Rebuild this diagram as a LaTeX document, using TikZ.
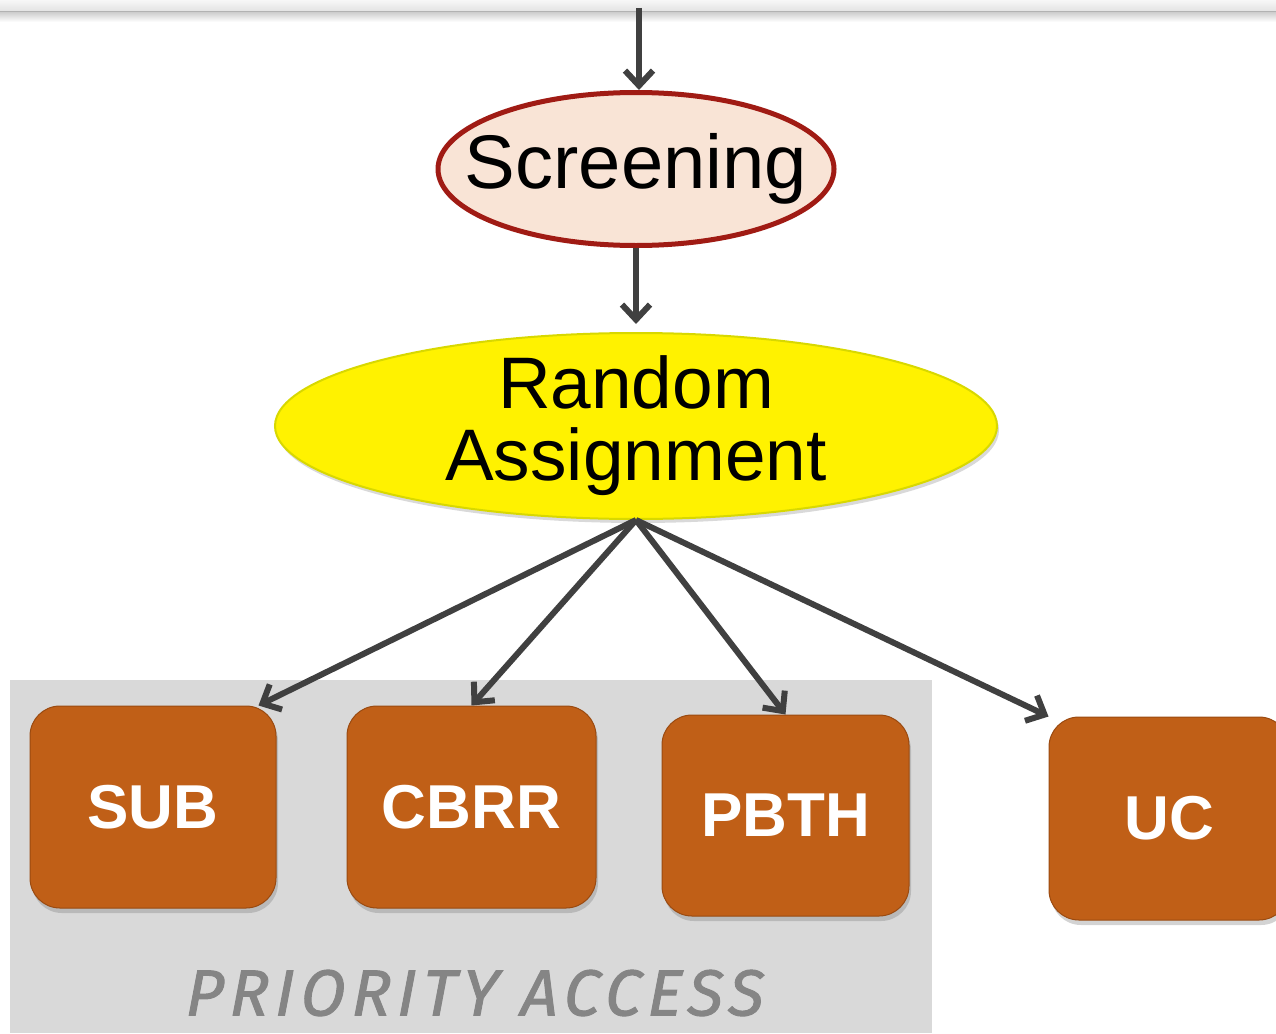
\documentclass[tikz,border=0pt]{standalone}
\usepackage{fontspec}
\setmainfont{Liberation Sans}
\newfontfamily\labelfont{Fira Sans}[LetterSpace=10, ItalicFeatures={FakeBold=1.5, FakeSlant=0.05}]
\usetikzlibrary{arrows.meta,shadows,shapes.geometric}
\definecolor{arrowgray}{HTML}{404040}
\definecolor{peach}{HTML}{F9E4D6}
\definecolor{darkred}{HTML}{A01B14}
\definecolor{boxorange}{HTML}{C05F17}
\definecolor{boxedge}{HTML}{9A4A10}
\definecolor{panel}{HTML}{D9D9D9}
\definecolor{labelgray}{HTML}{858585}
\definecolor{rimyellow}{HTML}{D8D800}
\begin{document}
\begin{tikzpicture}[x=1pt, y=-1pt,
  link/.style={draw=arrowgray, line width=6pt, -{Straight Barb[length=15pt, width=28pt]}},
  arm/.style={rounded corners=30pt, fill=boxorange, draw=boxedge, line width=1pt,
    text=white, font=\fontsize{62}{62}\selectfont\bfseries, inner sep=0pt,
    minimum width=247pt, minimum height=202pt,
    drop shadow={shadow xshift=2pt, shadow yshift=-5pt, opacity=.35}}]
  \useasboundingbox (0,0) rectangle (1276,1033);
  % top band
  \fill[top color=gray!6, bottom color=gray!22] (0,0) rectangle (1276,11);
  \fill[gray!60] (0,11) rectangle (1276,13);
  \fill[top color=gray!35, bottom color=white] (0,13) rectangle (1276,22);
  % priority access panel
  \fill[panel] (10,680) rectangle (932,1033);
  \node[font=\labelfont\itshape\fontsize{65}{65}\selectfont, text=labelgray] (PA) at (474,993) {PRIORITY ACCESS};
  % ellipses
  \node[ellipse, fill=peach, draw=darkred, line width=5pt, minimum width=396pt, minimum height=153pt,
    inner xsep=-40pt, inner ysep=0pt, font=\fontsize{76}{76}\selectfont] (S) at (636,169) {Screening};
  \node[ellipse, fill=yellow, draw=rimyellow, line width=2pt,
    minimum width=722pt, minimum height=186pt, inner ysep=-20pt, inner xsep=0pt, align=center,
    font=\fontsize{73}{72}\selectfont,
    drop shadow={shadow xshift=2pt, shadow yshift=-4pt, opacity=.3}] (R) at (636,426) {Random\\Assignment};
  % arms
  \node[arm, minimum width=246pt] (SUB) at (153,807) {SUB};
  \node[arm, minimum width=249pt] (CBRR) at (471.5,807) {CBRR};
  \node[arm, minimum height=201pt] (PBTH) at (785.5,815.5) {PBTH};
  \node[arm, minimum width=240pt, minimum height=203pt] (UC) at (1169,818.5) {UC};
  % connectors
  \coordinate (T) at (639,8);
  \draw[link] (T) -- (T |- S.north);
  \draw[link] (S.south) -- ([yshift=8pt]R.north);
  \draw[link] (R.south) -- ([xshift=-18pt]SUB.north east);
  \draw[link] (R.south) -- (CBRR.north);
  \draw[link] (R.south) -- (PBTH.north);
  \draw[link] (R.south) -- (UC.north west);
\end{tikzpicture}
\end{document}
